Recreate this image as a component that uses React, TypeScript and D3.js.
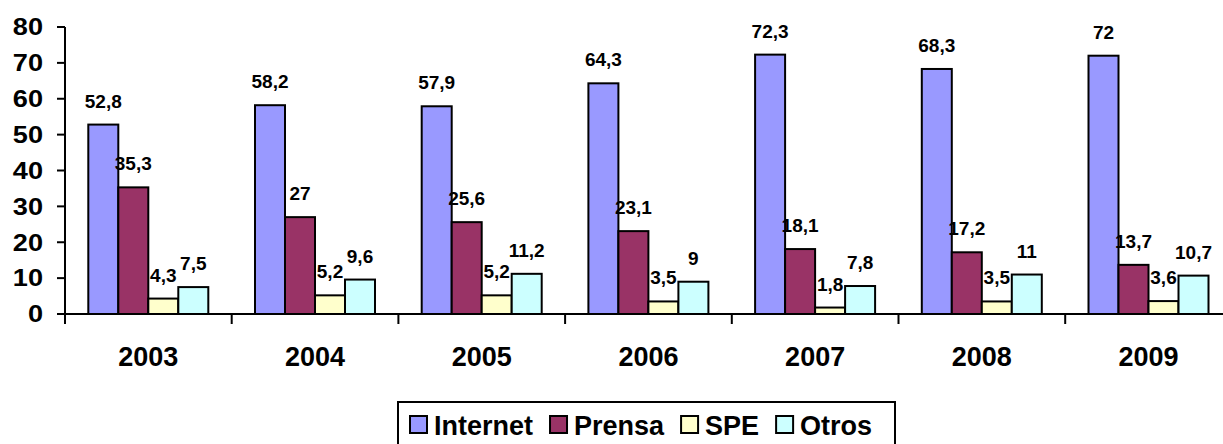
import React, { useEffect, useRef } from 'react';
import * as d3 from 'd3';

const years = ['2003', '2004', '2005', '2006', '2007', '2008', '2009'];
const seriesNames = ['Internet', 'Prensa', 'SPE', 'Otros'];
const seriesColors = ['#9999FF', '#993366', '#FFFFCC', '#CCFFFF'];

const internet = [52.8, 58.2, 57.9, 64.3, 72.3, 68.3, 72];
const prensa = [35.3, 27, 25.6, 23.1, 18.1, 17.2, 13.7];
const spe = [4.3, 5.2, 5.2, 3.5, 1.8, 3.5, 3.6];
const otros = [7.5, 9.6, 11.2, 9, 7.8, 11, 10.7];

const yTicks = [0, 10, 20, 30, 40, 50, 60, 70, 80];

const W = 1223;
const H = 444;
const FONT = '"Liberation Sans", Arial, sans-serif';

const fmt = (v: number) => String(v).replace('.', ',');

const App: React.FC = () => {
  const svgRef = useRef<SVGSVGElement>(null);

  useEffect(() => {
    if (!svgRef.current) return;
    const svg = d3.select(svgRef.current);
    svg.selectAll('*').remove();

    const values = [internet, prensa, spe, otros];
    const left = 65;
    const step = 166.7;

    const x = d3.scaleBand<string>()
      .domain(years)
      .range([left, left + step * years.length])
      .padding(0);

    const inner = d3.scaleBand<string>()
      .domain(seriesNames)
      .range([23.3, 143.3])
      .padding(0);

    const y = d3.scaleLinear().domain([0, 80]).range([314, 27]);

    const g = svg.append('g').style('font-family', FONT).style('font-weight', 'bold');

    // bars
    years.forEach((yr, i) => {
      seriesNames.forEach((s, j) => {
        const v = values[j][i];
        const bx = x(yr)! + inner(s)!;
        g.append('rect')
          .attr('x', bx)
          .attr('y', y(v))
          .attr('width', inner.bandwidth())
          .attr('height', y(0) - y(v))
          .attr('fill', seriesColors[j])
          .attr('stroke', '#000')
          .attr('stroke-width', 2);
      });
    });

    // value labels
    years.forEach((yr, i) => {
      seriesNames.forEach((s, j) => {
        const v = values[j][i];
        const cx = x(yr)! + inner(s)! + inner.bandwidth() / 2;
        g.append('text')
          .attr('x', cx)
          .attr('y', y(v) - 17)
          .attr('text-anchor', 'middle')
          .attr('font-size', 19)
          .attr('fill', '#000')
          .text(fmt(v));
      });
    });

    // y axis
    g.append('line')
      .attr('x1', left).attr('x2', left)
      .attr('y1', y(80)).attr('y2', y(0))
      .attr('stroke', '#000').attr('stroke-width', 2);
    yTicks.forEach(t => {
      g.append('line')
        .attr('x1', left - 8).attr('x2', left)
        .attr('y1', y(t)).attr('y2', y(t))
        .attr('stroke', '#000').attr('stroke-width', 2);
      g.append('text')
        .attr('transform', `translate(43,${y(t) + 8.3}) scale(1.18,1)`)
        .attr('text-anchor', 'end')
        .attr('font-size', 23)
        .attr('fill', '#000')
        .text(t);
    });

    // x axis
    g.append('line')
      .attr('x1', left).attr('x2', left + step * years.length)
      .attr('y1', y(0)).attr('y2', y(0))
      .attr('stroke', '#000').attr('stroke-width', 2);
    years.forEach(yr => {
      g.append('line')
        .attr('x1', x(yr)!).attr('x2', x(yr)!)
        .attr('y1', y(0)).attr('y2', y(0) + 10)
        .attr('stroke', '#000').attr('stroke-width', 2);
      g.append('text')
        .attr('x', x(yr)! + x.bandwidth() / 2)
        .attr('y', 366)
        .attr('text-anchor', 'middle')
        .attr('font-size', 27)
        .attr('fill', '#000')
        .text(yr);
    });

    // legend
    const lg = g.append('g');
    lg.append('rect')
      .attr('x', 398).attr('y', 402)
      .attr('width', 497).attr('height', 60)
      .attr('fill', '#fff')
      .attr('stroke', '#000').attr('stroke-width', 2);
    let lx = 410;
    seriesNames.forEach((s, j) => {
      lg.append('rect')
        .attr('x', lx).attr('y', 416)
        .attr('width', 17).attr('height', 17)
        .attr('fill', seriesColors[j])
        .attr('stroke', '#000').attr('stroke-width', 2);
      const t = lg.append('text')
        .attr('x', lx + 24)
        .attr('y', 435)
        .attr('font-size', 27)
        .attr('fill', '#000')
        .text(s);
      const w = (t.node() as SVGTextElement).getComputedTextLength();
      lx = lx + 24 + w + 17;
    });
  }, []);

  return (
    <svg
      ref={svgRef}
      width={W}
      height={H}
      style={{ position: 'absolute', left: 0, top: 0, background: '#fff' }}
    />
  );
};

export default App;
